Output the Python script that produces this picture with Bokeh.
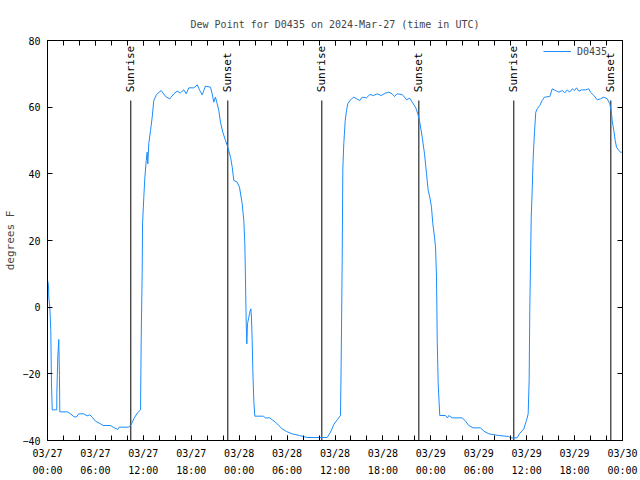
import numpy as np
import pandas as pd
from bokeh.plotting import figure
from bokeh.models import Range1d, DatetimeAxis, LinearAxis, FixedTicker, CustomLabelingPolicy
from bokeh.embed import file_html
from bokeh.resources import INLINE
from bokeh.core.properties import value

START = pd.Timestamp("2024-03-27 00:00")
END = pd.Timestamp("2024-03-30 00:00")

# hours since 2024-03-27 00:00 UTC
hours = [
    0.00, 0.13, 0.16, 0.29, 0.41, 0.50, 0.59, 1.16, 1.17, 1.29, 1.41, 1.50, 1.54, 2.47, 2.88,
    3.29, 3.59, 3.92, 4.55, 4.97, 5.30, 5.60, 6.01, 6.64, 6.97, 7.89, 8.23, 8.80, 8.98, 10.18,
    10.48, 10.81, 11.23, 11.65, 11.73, 11.86, 11.90, 12.06, 12.18, 12.36, 12.48, 12.56, 12.68,
    12.90, 13.11, 13.31, 13.65, 14.24, 14.78, 15.31, 15.81, 16.24, 16.65, 17.07, 17.37, 17.69,
    18.32, 18.75, 19.07, 19.37, 19.78, 20.41, 20.62, 20.82, 21.03, 21.25, 21.45, 21.66, 21.95,
    22.29, 22.58, 22.92, 23.13, 23.33, 23.75, 24.04, 24.38, 24.58, 24.71, 24.79, 24.88, 24.96,
    25.04, 25.21, 25.33, 25.46, 25.54, 25.63, 25.71, 25.83, 25.96, 27.01, 27.30, 27.80, 28.14,
    28.55, 28.96, 29.39, 29.93, 30.64, 31.55, 32.52, 35.02, 35.44, 35.85, 36.28, 36.69, 36.78,
    36.90, 36.98, 37.10, 37.28, 37.44, 37.60, 37.94, 38.35, 38.69, 39.11, 39.41, 39.94, 40.36,
    40.82, 41.28, 41.78, 42.32, 42.74, 43.16, 43.45, 43.79, 44.41, 44.70, 44.95, 45.37, 45.67,
    46.08, 46.37, 46.58, 46.92, 47.21, 47.46, 47.67, 47.87, 48.08, 48.25, 48.46, 48.59, 48.71,
    48.80, 48.92, 49.12, 49.84, 50.09, 50.25, 50.67, 51.93, 52.34, 52.75, 53.31, 54.22, 54.63,
    55.26, 56.51, 57.76, 57.97, 58.81, 59.10, 59.64, 59.98, 60.19, 60.31, 60.39, 60.57, 60.69,
    60.82, 60.98, 61.14, 61.32, 61.64, 61.94, 62.23, 62.90, 63.20, 63.61, 64.03, 64.45, 64.78,
    65.08, 65.37, 65.71, 65.99, 66.24, 66.53, 66.87, 67.37, 67.78, 67.99, 68.41, 68.83, 69.25,
    69.66, 70.09, 70.41, 70.58, 70.71, 70.91, 71.09, 71.25, 71.54, 71.75, 71.94,
]
dewpoint = [
    8.2, 6.5, 3.0, 0.0, -7.0, -23.0, -30.8, -30.8, -25.6, -15.0, -9.7, -20.5, -31.4, -31.4, -32.0,
    -32.8, -33.0, -32.0, -32.0, -32.6, -32.3, -33.0, -34.2, -35.0, -35.5, -35.5, -36.0, -36.7, -36.0, -36.0,
    -35.2, -33.5, -31.8, -30.8, -9.8, 11.0, 25.0, 33.0, 38.5, 44.0, 46.5, 43.0, 49.0,
    53.0, 57.0, 62.0, 63.8, 65.0, 63.2, 62.5, 64.0, 64.8, 64.3, 65.2, 64.0, 65.8,
    65.8, 66.7, 65.0, 63.7, 66.3, 66.0, 64.0, 61.5, 63.0, 61.0, 59.0, 55.5, 52.5,
    50.0, 48.0, 45.0, 42.0, 38.0, 37.5, 36.0, 31.0, 26.0, 19.0, 8.5, -4.5, -11.0,
    -5.0, -3.0, -1.5, -0.5, -3.0, -10.0, -19.0, -28.0, -32.7, -32.7, -33.2, -33.2, -33.8,
    -34.5, -35.5, -36.5, -37.3, -38.0, -38.5, -39.1, -39.1, -37.5, -35.2, -33.8, -32.5, -15.0,
    14.0, 41.5, 49.0, 56.0, 59.0, 61.0, 62.2, 63.0, 62.5, 62.0, 63.0, 62.8, 63.8,
    63.5, 64.0, 63.5, 64.2, 64.5, 64.0, 63.2, 64.0, 63.8, 63.0, 62.2, 62.7, 61.5,
    60.0, 58.0, 56.0, 51.0, 46.0, 40.0, 35.0, 33.0, 30.0, 25.0, 21.0, 18.0, 9.0,
    -10.0, -23.0, -32.5, -32.5, -33.2, -32.5, -33.2, -33.2, -34.2, -35.5, -36.2, -36.2, -37.2,
    -38.0, -38.5, -38.8, -39.2, -39.2, -38.0, -36.5, -34.0, -32.0, -22.0, -1.0, 27.0, 35.0,
    45.0, 52.5, 58.5, 59.5, 60.5, 62.0, 63.0, 63.2, 65.5, 65.0, 64.5, 65.0, 64.3,
    65.2, 64.5, 65.5, 65.0, 65.8, 64.8, 65.2, 65.2, 65.5, 64.5, 63.5, 62.2, 62.5,
    63.0, 62.5, 61.0, 59.0, 56.0, 53.0, 50.0, 48.0, 47.0, 46.5, 46.5,
]

sunrise_hours = [10.43, 34.35, 58.39]
sunset_hours = [22.58, 46.50, 70.54]

tick_hours = [0, 6, 12, 18, 24, 30, 36, 42, 48, 54, 60, 66, 72]
tick_labels = [
    "03/27\n00:00", "03/27\n06:00", "03/27\n12:00", "03/27\n18:00",
    "03/28\n00:00", "03/28\n06:00", "03/28\n12:00", "03/28\n18:00",
    "03/29\n00:00", "03/29\n06:00", "03/29\n12:00", "03/29\n18:00",
    "03/30\n00:00",
]
minor_tick_hours = list(range(0, 73, 2))
y_ticks = [-40, -20, 0, 20, 40, 60, 80]

FONT = "DejaVu Sans Mono"
LINE_COLOR = "#1a8cff"


def to_time(h):
    return START + pd.to_timedelta(np.asarray(h, dtype=float), unit="h")


def to_ms(h):
    return [float((START + pd.Timedelta(hours=x)).value // 10**6) for x in h]


times = to_time(hours)

p = figure(
    x_axis_type="datetime",
    x_range=Range1d(START, END),
    y_range=Range1d(-40, 80),
    frame_width=575, frame_height=400,
    min_border_left=47, min_border_right=18, min_border_top=40, min_border_bottom=40,
    output_backend="svg", toolbar_location=None,
    title="Dew Point for D0435 on 2024-Mar-27 (time in UTC)",
)
p.title.align = "center"
p.title.text_font = FONT
p.title.text_font_style = "normal"
p.title.text_font_size = "10px"
p.title.standoff = 22

p.grid.visible = False
p.outline_line_color = "black"
p.background_fill_color = "white"
p.border_fill_color = "white"

# sunrise / sunset markers
sr = to_time(sunrise_hours)
ss = to_time(sunset_hours)
p.segment(x0=sr, y0=[-40] * 3, x1=sr, y1=[62] * 3, line_color="black", line_width=1)
p.segment(x0=ss, y0=[-40] * 3, x1=ss, y1=[62] * 3, line_color="black", line_width=1)
p.text(x=sr, y=[64.5] * 3, text=["Sunrise"] * 3, angle=np.pi / 2, text_align="left",
       text_baseline="middle", text_font=value(FONT), text_font_size="11px", text_color="black")
p.text(x=ss, y=[64.5] * 3, text=["Sunset"] * 3, angle=np.pi / 2, text_align="left",
       text_baseline="middle", text_font=value(FONT), text_font_size="11px", text_color="black")

p.line(times, dewpoint, line_color=LINE_COLOR, line_width=1, legend_label="D0435")

leg = p.legend[0]
leg.location = (494, 381)
leg.border_line_alpha = 0
leg.background_fill_alpha = 0
leg.label_text_font = FONT
leg.label_text_font_size = "10px"
leg.glyph_width = 28
leg.glyph_height = 12
leg.label_height = 12
leg.label_standoff = 6
leg.padding = 2
leg.margin = 0

x_ticker = FixedTicker(ticks=to_ms(tick_hours), minor_ticks=to_ms(minor_tick_hours))
y_ticker = FixedTicker(ticks=y_ticks, minor_ticks=[])
overrides = {t: lab for t, lab in zip(to_ms(tick_hours), tick_labels)}

xa = p.xaxis[0]
xa.ticker = x_ticker
xa.major_label_overrides = overrides
ya = p.yaxis[0]
ya.ticker = y_ticker
ya.axis_label = "degrees F"
ya.axis_label_text_font = FONT
ya.axis_label_text_font_style = "normal"
ya.axis_label_text_font_size = "11px"
ya.axis_label_standoff = 2

top = DatetimeAxis(ticker=x_ticker, major_label_standoff=0,
                   major_label_overrides={t: "" for t in to_ms(tick_hours)},
                   major_label_policy=CustomLabelingPolicy(code="return new Set()"))
right = LinearAxis(ticker=y_ticker, major_label_standoff=0,
                   major_label_overrides={t: "" for t in y_ticks},
                   major_label_policy=CustomLabelingPolicy(code="return new Set()"))
p.add_layout(top, "above")
p.add_layout(right, "right")

for ax in [xa, ya, top, right]:
    ax.axis_line_color = "black"
    ax.major_tick_line_color = "black"
    ax.minor_tick_line_color = "black"
    ax.major_tick_in = 5
    ax.major_tick_out = 0
    ax.minor_tick_in = 5
    ax.minor_tick_out = 0
for ax in [xa, ya]:
    ax.major_label_text_font = FONT
    ax.major_label_text_font_size = "10px"
    ax.major_label_text_color = "black"
xa.major_label_text_line_height = 1.6
xa.major_label_standoff = 7
ya.major_label_standoff = 7

open("out.html", "w").write(file_html(p, INLINE))
